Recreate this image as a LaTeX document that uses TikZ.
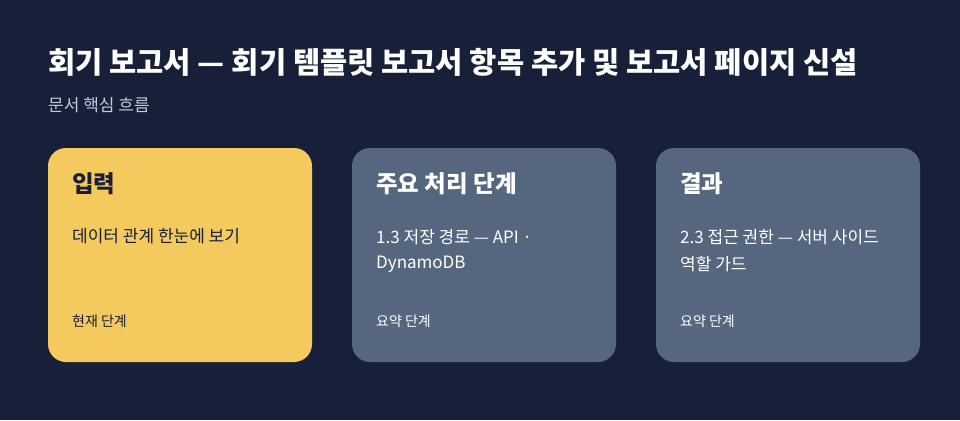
\documentclass[tikz,border=0pt]{standalone}
\usepackage{fontspec}
\setmainfont{Noto Sans CJK KR}
\usepackage{tikz}

\definecolor{pagebg}{HTML}{182039}
\definecolor{cardyellow}{HTML}{F4C95D}
\definecolor{cardslate}{HTML}{56667F}
\definecolor{subgray}{HTML}{C3CBD9}
\definecolor{inkdark}{HTML}{182039}

\begin{document}
\begin{tikzpicture}[x=1pt,y=-1pt,
	card/.style={rounded corners=18pt,minimum width=264pt,minimum height=214pt,inner sep=0pt},
	cardtitle/.style={anchor=west,inner sep=0pt,font=\fontsize{23.5}{28}\selectfont\bfseries},
	cardtext/.style={anchor=west,inner sep=0pt,font=\fontsize{17}{20}\selectfont},
	cardnote/.style={anchor=west,inner sep=0pt,font=\fontsize{14}{16}\selectfont}]
		\fill[pagebg] (0,0) rectangle (960,420);
		\useasboundingbox (0,0) rectangle (960,420);
		\node[anchor=west,inner sep=0pt,text=white,font=\fontsize{29.6}{34}\selectfont\bfseries] (title) at (48,62) {회기 보고서 — 회기 템플릿 보고서 항목 추가 및 보고서 페이지 신설};
		\node[anchor=west,inner sep=0pt,text=subgray,font=\fontsize{17}{20}\selectfont] (subtitle) at (48,105) {문서 핵심 흐름};
		% cards
		\node[card,fill=cardyellow] (input) at (180,255) {};
		\node[card,fill=cardslate] (process) at (484,255) {};
		\node[card,fill=cardslate] (result) at (788,255) {};
		% input
		\node[cardtitle,text=inkdark] (inputtitle) at (72,184) {입력};
		\node[cardtext,text=inkdark] (inputtext) at (72,236) {데이터 관계 한눈에 보기};
		\node[cardnote,text=inkdark] (inputnote) at (72,321) {현재 단계};
		% process
		\node[cardtitle,text=white] (processtitle) at (376,184) {주요 처리 단계};
		\node[cardtext,text=white] (processtext) at (376,237) {1.3 저장 경로 — API ·};
		\node[cardtext,text=white] (processtexttwo) at (376,264) {DynamoDB};
		\node[cardnote,text=white] (processnote) at (376,321) {요약 단계};
		% result
		\node[cardtitle,text=white] (resulttitle) at (680,184) {결과};
		\node[cardtext,text=white] (resulttext) at (680,237) {2.3 접근 권한 — 서버 사이드};
		\node[cardtext,text=white] (resulttexttwo) at (680,264) {역할 가드};
		\node[cardnote,text=white] (resultnote) at (680,321) {요약 단계};
\end{tikzpicture}
\end{document}
